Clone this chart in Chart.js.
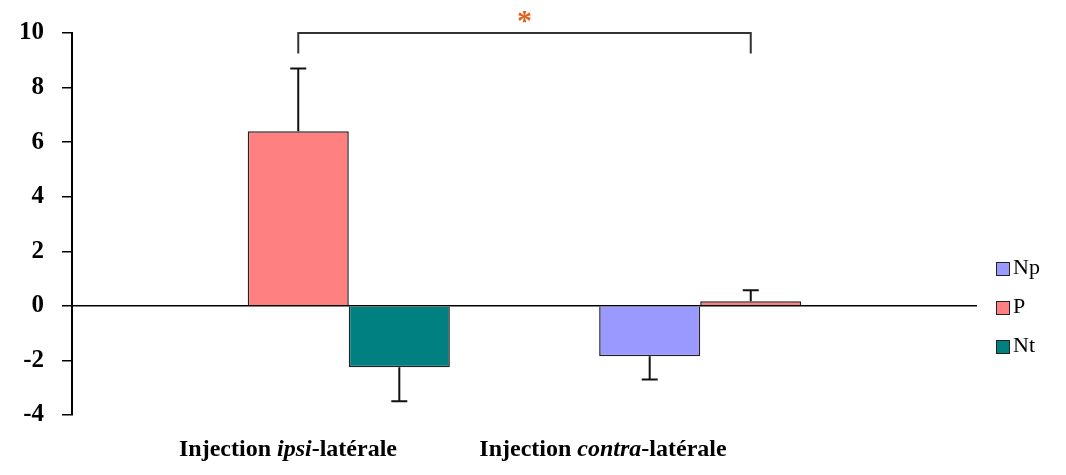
<!DOCTYPE html>
<html>
<head>
<meta charset="utf-8">
<script src="https://cdn.jsdelivr.net/npm/chart.js@4.4.1/dist/chart.umd.min.js"></script>
<style>
  html, body { margin: 0; padding: 0; background: #fff; }
  #wrap { width: 1066px; height: 475px; }
</style>
</head>
<body>
<div id="wrap"><canvas id="myChart" width="1066" height="475"></canvas></div>
<script>
// categories (drawn as mixed roman / italic text)
let categories = ['Injection ipsi-latérale', 'Injection contra-latérale'];
let categoryParts = [
  [['Injection ', false], ['ipsi', true], ['-latérale', false]],
  [['Injection ', false], ['contra', true], ['-latérale', false]]
];
let seriesNames = ['Np', 'P', 'Nt'];
let npValues = [null, -1.85];
let pValues = [6.4, 0.17];
let ntValues = [-2.25, null];
let npErrors = [null, 0.85];
let pErrors = [2.3, 0.4];
let ntErrors = [1.25, null];
let yTicks = [-4, -2, 0, 2, 4, 6, 8, 10];
let colors = ['#9999ff', '#ff8080', '#008080'];

let serif = "'Times New Roman', 'Liberation Serif', serif";

/* error bars, one side, away from zero */
let errorBars = {
  id: 'errorBars',
  afterDatasetsDraw(chart) {
    let ctx = chart.ctx;
    let y = chart.scales.y;
    ctx.save();
    ctx.strokeStyle = '#111';
    ctx.lineWidth = 2;
    chart.data.datasets.forEach(function(ds, i) {
      let meta = chart.getDatasetMeta(i);
      ds.errors.forEach(function(err, j) {
        let v = ds.data[j];
        if (v === null || err === null) return;
        let bar = meta.data[j];
        let end = v >= 0 ? v + err : v - err;
        let yEnd = y.getPixelForValue(end);
        ctx.beginPath();
        ctx.moveTo(bar.x, y.getPixelForValue(v));
        ctx.lineTo(bar.x, yEnd);
        ctx.moveTo(bar.x - 8, yEnd);
        ctx.lineTo(bar.x + 8, yEnd);
        ctx.stroke();
      });
    });
    ctx.restore();
  }
};

/* significance bracket + star, category labels, legend */
let extras = {
  id: 'extras',
  afterDraw(chart) {
    let ctx = chart.ctx;
    let x = chart.scales.x;
    let y = chart.scales.y;
    let area = chart.chartArea;
    ctx.save();

    // bracket
    let x0 = x.getPixelForValue(0);
    let x1 = x.getPixelForValue(1);
    let yTop = y.getPixelForValue(10);
    let yLow = y.getPixelForValue(9.25);
    ctx.strokeStyle = '#333';
    ctx.lineWidth = 2;
    ctx.beginPath();
    ctx.moveTo(x0, yLow);
    ctx.lineTo(x0, yTop);
    ctx.lineTo(x1, yTop);
    ctx.lineTo(x1, yLow);
    ctx.stroke();
    ctx.fillStyle = '#e0601f';
    ctx.font = 'bold 30px ' + serif;
    ctx.textAlign = 'center';
    ctx.textBaseline = 'middle';
    ctx.fillText('*', (x0 + x1) / 2, yTop - 11);

    // category labels
    let labelX = [288, 603];
    ctx.fillStyle = '#000';
    ctx.textBaseline = 'alphabetic';
    ctx.textAlign = 'left';
    categoryParts.forEach(function(parts, i) {
      let total = 0;
      parts.forEach(function(p) {
        ctx.font = (p[1] ? 'italic bold ' : 'bold ') + '24px ' + serif;
        total += ctx.measureText(p[0]).width;
      });
      let cx = labelX[i] - total / 2;
      parts.forEach(function(p) {
        ctx.font = (p[1] ? 'italic bold ' : 'bold ') + '24px ' + serif;
        ctx.fillText(p[0], cx, area.bottom + 41);
        cx += ctx.measureText(p[0]).width;
      });
    });

    // legend
    ctx.font = '22px ' + serif;
    ctx.textBaseline = 'middle';
    seriesNames.forEach(function(name, i) {
      let ly = 268 + i * 39;
      ctx.fillStyle = colors[i];
      ctx.fillRect(996, ly - 6, 14, 14);
      ctx.strokeStyle = '#222';
      ctx.lineWidth = 1;
      ctx.strokeRect(996.5, ly - 5.5, 13, 13);
      ctx.fillStyle = '#000';
      ctx.fillText(name, 1013, ly);
    });
    ctx.restore();
  }
};

let datasets = [
  { label: 'Np', data: npValues, errors: npErrors, backgroundColor: colors[0] },
  { label: 'P', data: pValues, errors: pErrors, backgroundColor: colors[1] },
  { label: 'Nt', data: ntValues, errors: ntErrors, backgroundColor: colors[2] }
].map(function(d) {
  d.borderColor = '#222';
  d.borderWidth = 1.5;
  d.categoryPercentage = 0.67;
  d.barPercentage = 1.0;
  return d;
});

let config = {
  type: 'bar',
  data: { labels: categories, datasets: datasets },
  options: {
    responsive: false,
    animation: false,
    devicePixelRatio: 1,
    layout: { padding: { top: 25, left: 1, right: 89, bottom: 60 } },
    plugins: { legend: { display: false }, tooltip: { enabled: false } },
    scales: {
      x: { display: false },
      y: {
        min: -4,
        max: 10,
        afterBuildTicks(axis) { axis.ticks = yTicks.map(function(v) { return { value: v }; }); },
        border: { display: true, color: '#000', width: 2 },
        grid: {
          drawOnChartArea: true,
          color: function(c) { return c.tick && c.tick.value === 0 ? '#000' : 'rgba(0,0,0,0)'; },
          lineWidth: 1.5,
          tickColor: '#000',
          tickLength: 10
        },
        ticks: {
          color: '#000',
          padding: 18,
          font: { family: serif, size: 25, weight: 'bold' }
        }
      }
    }
  },
  plugins: [errorBars, extras]
};

let myChart = new Chart(document.getElementById('myChart'), config);
</script>
</body>
</html>
